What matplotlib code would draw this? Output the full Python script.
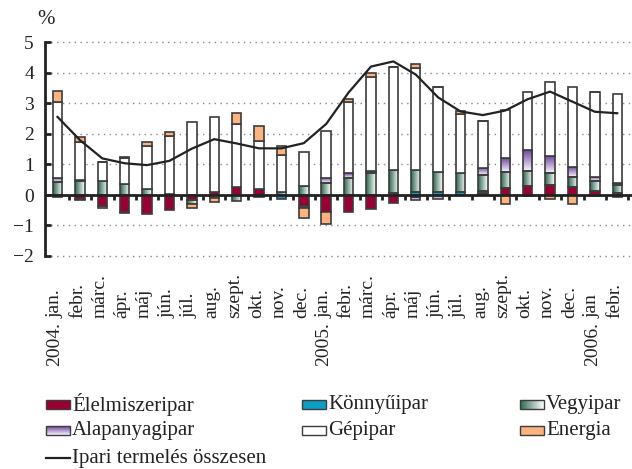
import numpy as np
import matplotlib
matplotlib.use("Agg")
import matplotlib.pyplot as plt
from matplotlib.colors import LinearSegmentedColormap
from matplotlib.patches import Rectangle
import matplotlib.transforms as mtransforms

plt.rcParams['font.family'] = ['Liberation Serif', 'DejaVu Serif']

months = ["jan.", "febr.", "márc.", "ápr.", "máj", "jún.", "júl.", "aug.", "szept.", "okt.", "nov.", "dec.",
          "jan.", "febr.", "márc.", "ápr.", "máj", "jún.", "júl.", "aug.", "szept.", "okt.", "nov.", "dec.",
          "jan", "febr."]
years = {0: "2004.", 12: "2005.", 24: "2006."}

elelmiszer = [0, -0.12, -0.36, -0.55, -0.62, -0.50, -0.18, 0.10, 0.26, 0.21, 0, -0.36,
              -0.55, -0.57, -0.47, -0.25, -0.06, 0, 0, 0.06, 0.22, 0.31, 0.33, 0.25, 0.14, 0]
konnyuipar = [-0.06, -0.04, 0, 0, 0, 0, 0, 0, 0, -0.07, -0.13, -0.07,
              0, 0, 0, 0.08, 0.10, 0.10, 0.10, 0.08, 0, 0, 0, 0, -0.04, 0.05]
vegyipar = [0.42, 0.47, 0.47, 0.36, 0.21, 0.04, -0.10, -0.11, -0.20, 0, 0.10, 0.30,
            0.38, 0.55, 0.71, 0.74, 0.72, 0.64, 0.61, 0.50, 0.53, 0.48, 0.38, 0.33, 0.32, 0.28]
alapanyag = [0.15, 0.02, -0.08, -0.05, 0, 0, 0, 0, 0, 0, 0, 0,
             0.17, 0.16, 0.09, 0, -0.12, -0.13, 0, 0.25, 0.47, 0.69, 0.58, 0.35, 0.14, 0.05]
gepipar = [2.49, 1.26, 0.60, 0.86, 1.40, 1.89, 2.38, 2.45, 2.06, 1.57, 1.21, 1.10,
           1.55, 2.35, 3.06, 3.39, 3.33, 2.81, 1.95, 1.54, 1.57, 1.91, 2.40, 2.60, 2.77, 2.93]
energia = [0.35, 0.15, 0, 0.04, 0.14, 0.15, -0.14, -0.11, 0.36, 0.48, 0.29, -0.31,
           -0.41, 0.10, 0.15, 0, 0.13, 0, 0.09, 0, -0.31, -0.04, -0.12, -0.30, 0, -0.08]
osszesen = [2.56, 1.80, 1.20, 1.04, 0.98, 1.12, 1.52, 1.83, 1.69, 1.53, 1.53, 1.70,
            2.33, 3.36, 4.21, 4.38, 3.95, 3.20, 2.74, 2.62, 2.77, 3.14, 3.39, 3.06, 2.73, 2.68]

series = [
    ("Élelmiszeripar", elelmiszer, "solid", "#9b0032"),
    ("Könnyűipar", konnyuipar, "solid", "#0a9fc6"),
    ("Vegyipar", vegyipar, "h", ("#2e6a50", "#ffffff")),
    ("Alapanyagipar", alapanyag, "v", ("#6c3f9c", "#f8f5fb")),
    ("Gépipar", gepipar, "solid", "#ffffff"),
    ("Energia", energia, "solid", "#fdb27f"),
]

W, H = 632, 469
fig = plt.figure(figsize=(W / 100, H / 100), dpi=100)
unit = 30.5
y0px = 195
ymin, ymax = -2.05, 5.05
top_px = y0px - ymax * unit
bot_px = y0px - ymin * unit
left_px = 45
xmin, xmax = -0.56, 25.66
ax = fig.add_axes([left_px / W, (H - bot_px) / H, (W - left_px) / W, (bot_px - top_px) / H])

n = len(months)
x = np.arange(n)
width = 0.42
pos_base = np.zeros(n)
neg_base = np.zeros(n)
edge = "#3c3c3c"


def grad_fill(rect, colors, direction, z):
    rx, ry = rect.get_x(), rect.get_y()
    rw, rh = rect.get_width(), rect.get_height()
    if abs(rh) < 1e-9:
        return
    if direction == "h":
        arr = np.linspace(0, 1, 64).reshape(1, -1)
    else:
        arr = np.linspace(0, 1, 64).reshape(-1, 1)
    cmap = LinearSegmentedColormap.from_list("g", list(colors))
    ya, yb = min(ry, ry + rh), max(ry, ry + rh)
    im = ax.imshow(arr, cmap=cmap, extent=[rx, rx + rw, ya, yb], aspect="auto",
                   origin="upper", zorder=z, interpolation="bilinear")
    im.set_clip_path(rect)


for name, vals, kind, col in series:
    v = np.array(vals, dtype=float)
    bottoms = np.where(v >= 0, pos_base, neg_base)
    fc = col if kind == "solid" else "none"
    bars = ax.bar(x, v, width=width, bottom=bottoms, color=fc, edgecolor=edge,
                  linewidth=1.2, zorder=3)
    if kind != "solid":
        for b in bars:
            grad_fill(b, col, kind, 2.5)
    pos_base = pos_base + np.where(v > 0, v, 0)
    neg_base = neg_base + np.where(v < 0, v, 0)

ax.plot(x, osszesen, color="#222222", linewidth=1.6, zorder=5)

# grid lines
for g in [-2, -1, 1, 2, 3, 4, 5]:
    ax.axhline(g, color="#8a8a8a", linewidth=1.0, linestyle=(0, (1, 3.2)), zorder=1)
ax.axhline(0, color="#222222", linewidth=2.0, zorder=4)
ax.vlines(np.arange(n) + 0.5, -0.17, 0, color="#222222", linewidth=2.0, zorder=4)

ax.set_xlim(xmin, xmax)
ax.set_ylim(ymin, ymax)
for s in ["top", "right", "bottom"]:
    ax.spines[s].set_visible(False)
ax.spines["left"].set_linewidth(2.0)
ax.spines["left"].set_color("#222222")
ax.spines["left"].set_bounds(-2, 5)
ax.set_yticks(range(-2, 6))
ax.set_yticklabels([("\u2212" + str(-t)) if t < 0 else str(t) for t in range(-2, 6)])
ax.tick_params(axis="y", direction="in", length=4, width=2, color="#222222",
               labelsize=14, pad=8, labelcolor="#222222")
ax.set_xticks([])
ax.patch.set_visible(False)

# x labels
month_start_px = 318
tr = mtransforms.blended_transform_factory(ax.transData, ax.transAxes)
for i, m in enumerate(months):
    off = mtransforms.ScaledTranslation(-2.5 / 100, -(month_start_px - bot_px) / 100, fig.dpi_scale_trans)
    ax.text(i, 0, m, transform=tr + off, rotation=90, rotation_mode="anchor",
            ha="left", va="center", fontsize=14, color="#222222")
    if i in years:
        off2 = mtransforms.ScaledTranslation(-2.5 / 100, -(month_start_px + 4 - bot_px) / 100,
                                             fig.dpi_scale_trans)
        ax.text(i, 0, years[i], transform=tr + off2, rotation=90, rotation_mode="anchor",
                ha="right", va="center", fontsize=14, color="#222222")

# overlay for legend and % sign
ov = fig.add_axes([0, 0, 1, 1], zorder=10)
ov.set_xlim(0, W)
ov.set_ylim(H, 0)
ov.axis("off")
ov.patch.set_visible(False)
ov.text(46, 20, "%", ha="center", va="center", fontsize=15, color="#222222")

leg_pos = [(46, 405), (302, 405), (520, 405), (46, 431), (302, 431), (520, 431)]
for (name, vals, kind, col), (lx, ly) in zip(series, leg_pos):
    rw, rh = 24, 9
    rect = Rectangle((lx, ly - rh / 2), rw, rh, facecolor=(col if kind == "solid" else "none"),
                     edgecolor=edge, linewidth=1.0, zorder=3)
    ov.add_patch(rect)
    if kind != "solid":
        arr = np.linspace(0, 1, 64).reshape(1, -1) if kind == "h" else np.linspace(0, 1, 64).reshape(-1, 1)
        cmap = LinearSegmentedColormap.from_list("g", list(col))
        im = ov.imshow(arr, cmap=cmap, extent=[lx, lx + rw, ly + rh / 2, ly - rh / 2],
                       aspect="auto", origin="upper", zorder=2, interpolation="bilinear")
        im.set_clip_path(rect)
    ov.text(lx + rw + 2, ly, name, ha="left", va="center", fontsize=15, color="#222222")
ov.plot([46, 70], [458, 458], color="#222222", linewidth=1.6)
ov.text(72, 458, "Ipari termelés összesen", ha="left", va="center", fontsize=15, color="#222222")
ov.set_xlim(0, W)
ov.set_ylim(H, 0)

fig.savefig("out.png", dpi=100)
